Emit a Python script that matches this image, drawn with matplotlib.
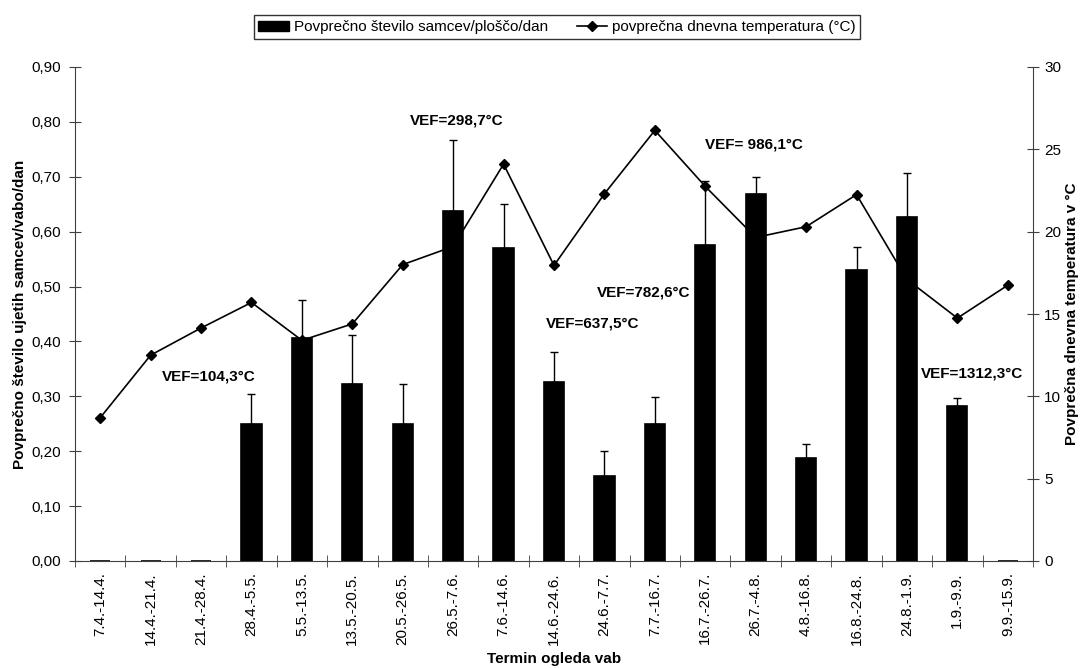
import matplotlib
matplotlib.use("Agg")
import matplotlib.pyplot as plt
import numpy as np
from matplotlib.lines import Line2D
from matplotlib.patches import Patch

plt.rcParams['font.family'] = ['Liberation Sans', 'DejaVu Sans']

categories = ["7.4.-14.4.", "14.4.-21.4.", "21.4.-28.4.", "28.4.-5.5.", "5.5.-13.5.",
              "13.5.-20.5.", "20.5.-26.5.", "26.5.-7.6.", "7.6.-14.6.", "14.6.-24.6.",
              "24.6.-7.7.", "7.7.-16.7.", "16.7.-26.7.", "26.7.-4.8.", "4.8.-16.8.",
              "16.8.-24.8.", "24.8.-1.9.", "1.9.-9.9.", "9.9.-15.9."]
males = [0.0, 0.0, 0.0, 0.25, 0.407, 0.322, 0.25, 0.637, 0.571, 0.326,
         0.155, 0.25, 0.575, 0.668, 0.187, 0.531, 0.626, 0.282, 0.0]
err_top = [0.0, 0.0, 0.0, 0.304, 0.475, 0.411, 0.322, 0.767, 0.650, 0.381,
           0.201, 0.298, 0.692, 0.699, 0.214, 0.572, 0.707, 0.297, 0.0]
temperature = [8.7, 12.5, 14.15, 15.7, 13.4, 14.4, 18.0, 19.1, 24.1, 17.95,
               22.3, 26.15, 22.75, 19.65, 20.3, 22.25, 17.1, 14.75, 16.75]
vef_labels = ["VEF=104,3°C", "VEF=298,7°C", "VEF=637,5°C", "VEF=782,6°C",
              "VEF= 986,1°C", "VEF=1312,3°C"]
yticks_left = [0.0, 0.1, 0.2, 0.3, 0.4, 0.5, 0.6, 0.7, 0.8, 0.9]
yticks_right = [0, 5, 10, 15, 20, 25, 30]

FS = 11

fig = plt.figure(figsize=(10.83, 6.69), dpi=100)
ax = fig.add_axes([75/1083, 1-561/669, (1033-75)/1083, (561-67)/669])
ax2 = ax.twinx()

x = np.arange(len(categories))
males_a = np.array(males)
err_a = np.array(err_top) - males_a
mask = err_a > 0

ax.bar(x, males_a, width=0.4, color='black', edgecolor='black', linewidth=1.2, zorder=2)
ax.errorbar(x[mask], males_a[mask], yerr=[np.zeros(mask.sum()), err_a[mask]],
            fmt='none', ecolor='black', elinewidth=1, capsize=3.2, capthick=1, zorder=3)

ax2.plot(x, temperature, color='black', lw=1.2, marker='D', markersize=5, zorder=1)

ax.set_zorder(ax2.get_zorder() + 1)
ax.patch.set_visible(False)

ax.set_xlim(-0.5, len(categories) - 0.5)
ax.set_ylim(0, 0.9)
ax2.set_ylim(0, 30)

ax.set_yticks(yticks_left)
ax.set_yticklabels([f"{v:.2f}".replace('.', ',') for v in yticks_left], fontsize=FS)
ax2.set_yticks(yticks_right)
ax2.set_yticklabels([str(v) for v in yticks_right], fontsize=FS)

ax.set_xticks(x)
ax.set_xticklabels(categories, rotation=90, fontsize=FS)
ax.set_xticks(np.arange(-0.5, len(categories)), minor=True)
ax.tick_params(axis='x', which='major', length=0, pad=8)
ax.tick_params(axis='x', which='minor', length=8, direction='inout', color='#404040')
ax.tick_params(axis='y', length=8, direction='inout', color='#404040', pad=6)
ax2.tick_params(axis='y', length=8, direction='inout', color='#404040', pad=4)

for a in (ax, ax2):
    a.spines['top'].set_visible(False)
    for s in ('left', 'right', 'bottom'):
        a.spines[s].set_color('#404040')
ax.spines['right'].set_visible(False)
ax2.spines['left'].set_visible(False)
ax2.spines['bottom'].set_visible(False)

ax.set_ylabel("Povprečno število ujetih samcev/vabo/dan", fontsize=FS, fontweight='bold', labelpad=3)
ax2.set_ylabel("Povprečna dnevna temperatura v °C", fontsize=FS, fontweight='bold', labelpad=3)
ax.set_xlabel("Termin ogleda vab", fontsize=FS, fontweight='bold', labelpad=5)

vef_pos = [(2.15, 0.336), (7.07, 0.803), (9.77, 0.432), (10.77, 0.489), (12.96, 0.759), (17.29, 0.341)]
for lab, (px, py) in zip(vef_labels, vef_pos):
    ax.text(px, py, lab, ha='center', va='center', fontsize=FS, fontweight='bold', zorder=5)

handles = [Patch(facecolor='black', edgecolor='black'),
           Line2D([0], [0], color='black', lw=1.2, marker='D', markersize=5)]
fig.legend(handles, ["Povprečno število samcev/ploščo/dan", "povprečna dnevna temperatura (°C)"],
           loc='center', bbox_to_anchor=(557/1083, 1-27/669), ncol=2, fontsize=FS,
           frameon=True, fancybox=False, edgecolor='black', handlelength=2.0,
           handleheight=0.65, columnspacing=1.9, borderpad=0.3, handletextpad=0.3,
           borderaxespad=0)

fig.savefig("out.png", dpi=100)
